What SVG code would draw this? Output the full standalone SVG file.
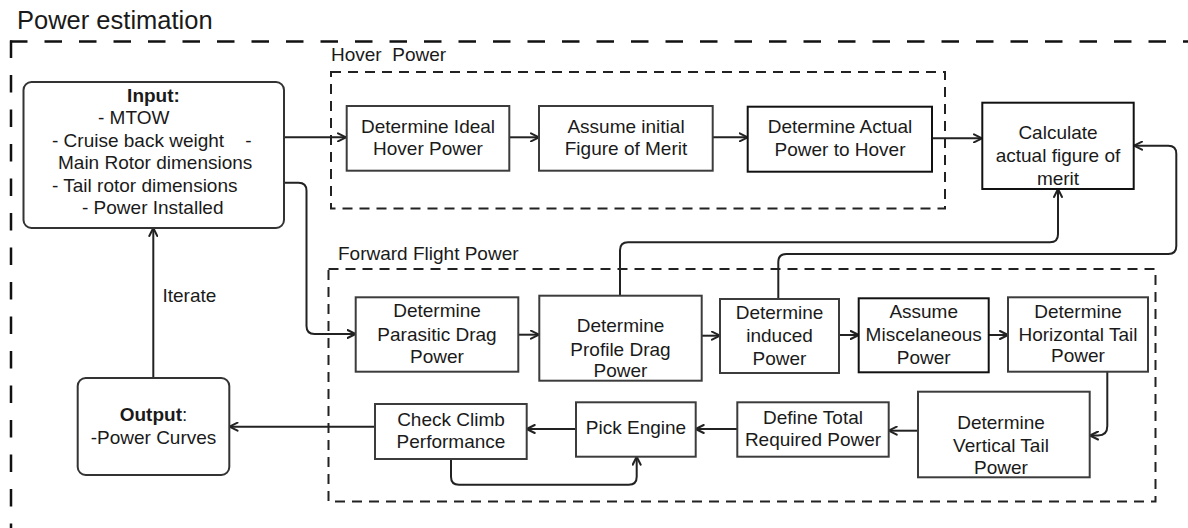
<svg xmlns="http://www.w3.org/2000/svg" width="1188" height="528" viewBox="0 0 1188 528">
<defs>
<marker id="ah" viewBox="0 0 10 10" refX="9" refY="5" markerWidth="10" markerHeight="10" markerUnits="userSpaceOnUse" orient="auto">
<path d="M1,1 L9,5 L1,9" fill="none" stroke="#222" stroke-width="2" stroke-linecap="round" stroke-linejoin="round"/>
</marker>
<style>
text{font-family:"Liberation Sans",Arial,sans-serif;font-size:19px;fill:#1a1a1a}
.c{text-anchor:middle}
.pre{white-space:pre}
.box{fill:#fff;stroke:#3c3c3c;stroke-width:2}
.dark{stroke:#111}
.rbox{fill:#fff;stroke:#333;stroke-width:2}
.outer{fill:none;stroke:#111;stroke-width:2.5;stroke-dasharray:17.5 17}
.grp{fill:none;stroke:#222;stroke-width:2;stroke-dasharray:10 7}
.con{fill:none;stroke:#222;stroke-width:2;marker-end:url(#ah)}
</style>
</defs>
<rect width="1188" height="528" fill="#fff"/>

<g id="frame">
<text x="17" y="29" style="font-size:25.5px">Power estimation</text>
<path class="outer" d="M10,41.5 H1188"/>
<path class="outer" d="M11,40.5 V528"/>
</g>

<g id="hover-group">
<text x="331" y="61" class="pre">Hover  Power</text>
<rect class="grp" x="331" y="72" width="614" height="136.5"/>
</g>

<g id="forward-group">
<text x="338" y="260">Forward Flight Power</text>
<rect class="grp" x="328.5" y="269" width="827" height="232.5"/>
</g>

<g id="connectors">
<path class="con" d="M284,137.3 H346"/>
<path class="con" d="M509.3,137.3 H539"/>
<path class="con" d="M712.7,137.3 H747.7"/>
<path class="con" d="M932,138.3 H982"/>
<path class="con" d="M284,182.7 H298.5 Q306.5,182.7 306.5,190.7 V326 Q306.5,334 314.5,334 H355.5"/>
<path class="con" d="M153.3,378 V228"/>
<path class="con" d="M375,426.7 H229.5"/>
<path class="con" d="M518.3,334.7 H539"/>
<path class="con" d="M701.7,335.7 H720"/>
<path class="con" d="M839,335 H858.7"/>
<path class="con" d="M988.7,335 H1008"/>
<path class="con" d="M1107.3,371.7 V426 Q1107.3,435.5 1098,435.5 H1090"/>
<path class="con" d="M918,430.7 H888.7"/>
<path class="con" d="M737.3,429 H695.7"/>
<path class="con" d="M576,429 H526.7"/>
<path class="con" d="M451,459 V476.7 Q451,484.7 459,484.7 H628.7 Q636.7,484.7 636.7,476.7 V456.7"/>
<path class="con" d="M620,295.7 V250.3 Q620,242.3 628,242.3 H1050 Q1058,242.3 1058,234.3 V189"/>
<path class="con" d="M778.3,299 V262 Q778.3,254 786.3,254 H1168.3 Q1176.3,254 1176.3,246 V153.7 Q1176.3,145.7 1168.3,145.7 H1134"/>
<text x="162.5" y="302">Iterate</text>
</g>

<g id="input">
<rect class="rbox" x="23.5" y="82" width="260.5" height="146" rx="8"/>
<text x="153.5" y="102" class="c" style="font-weight:bold">Input:</text>
<text x="98" y="123.5">- MTOW</text>
<text x="52" y="146.5" class="pre">- Cruise back weight    -</text>
<text x="58" y="168.5">Main Rotor dimensions</text>
<text x="52" y="191.5">- Tail rotor dimensions</text>
<text x="82" y="213.5">- Power Installed</text>
</g>

<g id="ideal-hover">
<rect class="box" x="346.7" y="106" width="162.6" height="64.7"/>
<text x="428" y="132.7" class="c">Determine Ideal</text>
<text x="428" y="155" class="c">Hover Power</text>
</g>

<g id="assume-fom">
<rect class="box" x="539" y="106" width="173.7" height="64.7"/>
<text x="626" y="132.7" class="c">Assume initial</text>
<text x="626" y="155" class="c">Figure of Merit</text>
</g>

<g id="actual-hover">
<rect class="box dark" x="747.7" y="106.7" width="184.3" height="65"/>
<text x="840" y="133" class="c">Determine Actual</text>
<text x="840" y="155.7" class="c">Power to Hover</text>
</g>

<g id="calc-fom">
<rect class="box dark" x="982.3" y="102.7" width="151.4" height="86.3"/>
<text x="1058" y="139.3" class="c">Calculate</text>
<text x="1058" y="162.3" class="c">actual figure of</text>
<text x="1058" y="185" class="c">merit</text>
</g>

<g id="parasitic">
<rect class="box" x="355.7" y="297.3" width="162.6" height="74.4"/>
<text x="437" y="317.3" class="c">Determine</text>
<text x="437" y="340.7" class="c">Parasitic Drag</text>
<text x="437" y="363.3" class="c">Power</text>
</g>

<g id="profile">
<rect class="box" x="539.3" y="295.7" width="162.4" height="85"/>
<text x="620.5" y="332.3" class="c">Determine</text>
<text x="620.5" y="355.7" class="c">Profile Drag</text>
<text x="620.5" y="377.3" class="c">Power</text>
</g>

<g id="induced">
<rect class="box" x="720" y="299" width="119" height="74"/>
<text x="779.5" y="319" class="c">Determine</text>
<text x="779.5" y="342.3" class="c">induced</text>
<text x="779.5" y="364.7" class="c">Power</text>
</g>

<g id="misc">
<rect class="box dark" x="858.7" y="298.3" width="130" height="74"/>
<text x="923.7" y="318.3" class="c">Assume</text>
<text x="923.7" y="341.3" class="c">Miscelaneous</text>
<text x="923.7" y="364" class="c">Power</text>
</g>

<g id="horizontal-tail">
<rect class="box" x="1008" y="297.3" width="140" height="74.4"/>
<text x="1078" y="318" class="c">Determine</text>
<text x="1078" y="341.3" class="c">Horizontal Tail</text>
<text x="1078" y="362.3" class="c">Power</text>
</g>

<g id="vertical-tail">
<rect class="box" x="918" y="391.7" width="171.7" height="85.6"/>
<text x="1001" y="429" class="c">Determine</text>
<text x="1001" y="452.3" class="c">Vertical Tail</text>
<text x="1001" y="474" class="c">Power</text>
</g>

<g id="total-power">
<rect class="box" x="737.3" y="402.3" width="151.4" height="54.4"/>
<text x="813" y="424" class="c">Define Total</text>
<text x="813" y="445.7" class="c">Required Power</text>
</g>

<g id="pick-engine">
<rect class="box" x="576" y="402.3" width="119.7" height="54.4"/>
<text x="636" y="434" class="c">Pick Engine</text>
</g>

<g id="check-climb">
<rect class="box" x="375" y="404" width="151.7" height="55"/>
<text x="451" y="425.7" class="c">Check Climb</text>
<text x="451" y="448.3" class="c">Performance</text>
</g>

<g id="output">
<rect class="rbox" x="77.7" y="378" width="151.6" height="97" rx="8"/>
<text x="153.5" y="420.7" class="c"><tspan style="font-weight:bold">Output</tspan>:</text>
<text x="153.5" y="444" class="c">-Power Curves</text>
</g>
</svg>
